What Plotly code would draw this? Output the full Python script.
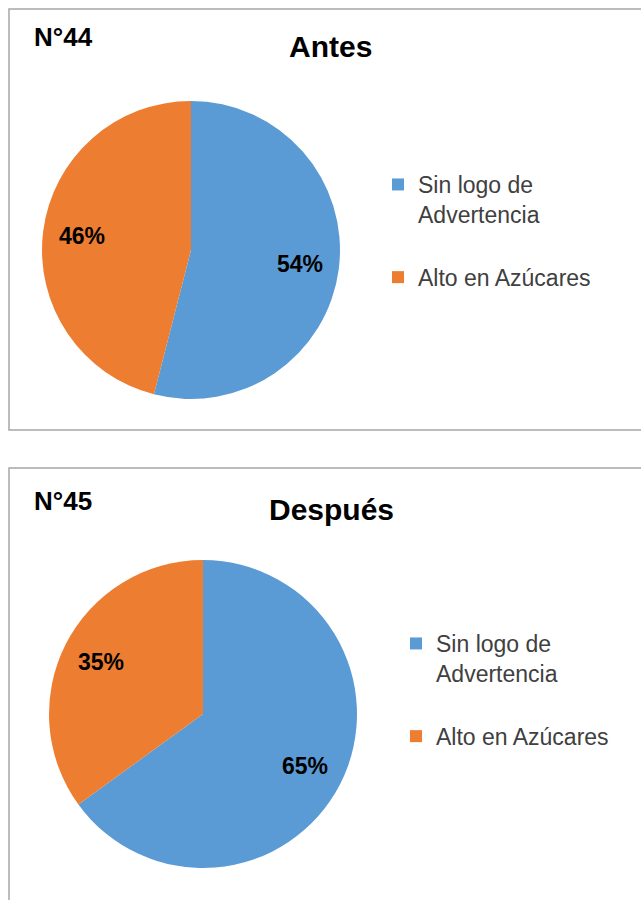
import math
import plotly.graph_objects as go

categories = ["Sin logo de Advertencia", "Alto en Azúcares"]
legend_labels_antes = [
    "Sin logo de<br>Advertencia<br><span style='font-size:36px'> </span>",
    "Alto en Azúcares",
]
legend_labels_despues = [
    "<span>Sin logo de</span><br><span>Advertencia</span><br><span style='font-size:36px'> </span>",
    "<span>Alto en Azúcares</span>",
]
antes_values = [54, 46]
despues_values = [65, 35]
colors = ["#5B9BD5", "#ED7D31"]

W, H = 641, 900


def px_x(x):
    return x / W


def px_y(y):
    return 1 - y / H


fig = go.Figure()

pies = [
    # labels, values, center x, center y, radius (pixels), legend id
    (legend_labels_antes, antes_values, 191, 250, 149, "legend"),
    (legend_labels_despues, despues_values, 203, 714, 154, "legend2"),
]

annotations = []
for labels, values, cx, cy, r, leg in pies:
    fig.add_trace(go.Pie(
        labels=labels, values=values, sort=False, direction="clockwise", rotation=0,
        marker=dict(colors=colors, line=dict(width=0)),
        domain=dict(x=[px_x(cx - r), px_x(cx + r)], y=[px_y(cy + r), px_y(cy - r)]),
        textinfo="none", legend=leg,
        customdata=categories, hovertemplate="%{customdata}: %{percent}<extra></extra>",
    ))
    total = sum(values)
    cum = 0
    for v in values:
        theta = math.radians(360 * (cum + v / 2) / total)
        cum += v
        k = 0.74 * r
        x = cx + k * math.sin(theta)
        y = cy - k * math.cos(theta)
        annotations.append(dict(
            text=f"<b>{round(100 * v / total)}%</b>", x=px_x(x), y=px_y(y),
            xanchor="center", yanchor="middle",
            font=dict(family="Liberation Sans", size=23, color="black"),
        ))

legend_common = dict(
    font=dict(family="Liberation Sans", size=23, color="#404040"),
    valign="top", xanchor="left", yanchor="top", bgcolor="rgba(0,0,0,0)",
    itemclick=False, itemdoubleclick=False,
)

annotations += [
    dict(text="<b>N°44</b>", x=px_x(32), y=px_y(37), xanchor="left", yanchor="middle",
         font=dict(family="Liberation Sans", size=26, color="black")),
    dict(text="<b>Antes</b>", x=px_x(330), y=px_y(46), xanchor="center", yanchor="middle",
         font=dict(family="Liberation Sans", size=30, color="black")),
    dict(text="<b>N°45</b>", x=px_x(32), y=px_y(501), xanchor="left", yanchor="middle",
         font=dict(family="Liberation Sans", size=26, color="black")),
    dict(text="<b>Después</b>", x=px_x(331), y=px_y(509), xanchor="center", yanchor="middle",
         font=dict(family="Liberation Sans", size=30, color="black")),
]
for a in annotations:
    a.update(xref="paper", yref="paper", showarrow=False)

shapes = [
    dict(type="rect", xref="paper", yref="paper", x0=px_x(9), x1=1.05, y0=px_y(430), y1=px_y(9),
         line=dict(color="#A6A6A6", width=1.5)),
    dict(type="rect", xref="paper", yref="paper", x0=px_x(9), x1=1.05, y0=-0.05, y1=px_y(468),
         line=dict(color="#A6A6A6", width=1.5)),
]

fig.update_layout(
    width=W, height=H, margin=dict(l=0, r=0, t=0, b=0),
    paper_bgcolor="white", plot_bgcolor="white",
    showlegend=True,
    legend=dict(x=px_x(378), y=px_y(163), **legend_common),
    legend2=dict(x=px_x(396), y=px_y(622), **legend_common),
    annotations=annotations, shapes=shapes,
)

fig.write_html("out.html", config={"displayModeBar": False},
               post_script="document.body.style.margin='0px';")
